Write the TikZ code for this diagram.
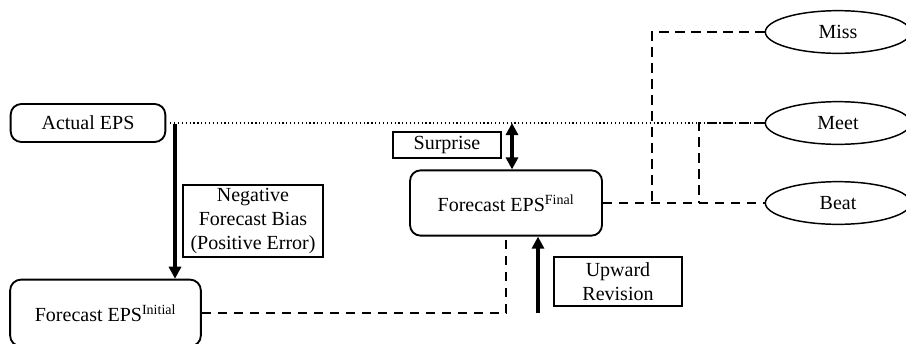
\documentclass[tikz,border=0pt]{standalone}
\usepackage{fontspec}
\setmainfont{Liberation Serif}
\usetikzlibrary{shapes.geometric,arrows.meta}
\begin{document}
\begin{tikzpicture}[x=0.75pt,y=-0.75pt,
    font=\fontsize{15}{18}\selectfont,
    epsbox/.style={draw,line width=1.4pt,rounded corners=8pt,align=center,inner sep=0pt},
    labelbox/.style={draw,line width=1.2pt,align=center,inner sep=1pt},
    outcome/.style={draw,ellipse,line width=1.1pt,inner sep=0pt,minimum width=109pt,minimum height=32pt},
    dashline/.style={line width=1.5pt,dash pattern=on 7pt off 5pt},
    bigarrow/.style={line width=2.3pt,-{Triangle[length=9pt,width=9pt]}}]
  \useasboundingbox (0,0) rectangle (906,343);

  % forecasts
  \node[epsbox,minimum width=116pt,minimum height=28.5pt] (actual) at (88,123) {Actual EPS};
  \node[epsbox,minimum width=143pt,minimum height=50pt] (initial) at (105.5,313) {Forecast EPS\textsuperscript{Initial}};
  \node[epsbox,minimum width=144pt,minimum height=49pt] (final) at (506,203) {Forecast EPS\textsuperscript{Final}};

  % explanations
  \node[labelbox,minimum width=105pt,minimum height=54pt] (bias) at (253,221) {Negative\\Forecast Bias\\(Positive Error)};
  \node[labelbox,minimum width=81pt,minimum height=19.5pt] (surprise) at (447,145) {Surprise};
  \node[labelbox,minimum width=96pt,minimum height=37pt] (revision) at (618,281.5) {Upward\\Revision};

  % outcomes
  \node[outcome] (miss) at (838,32) {Miss};
  \node[outcome] (meet) at (838,123) {Meet};
  \node[outcome] (beat) at (838,203) {Beat};

  \coordinate (down) at (175,124);
  \coordinate (up) at (538,313);
  \coordinate (gap) at (512,123);
  \coordinate (j1) at (652,203);
  \coordinate (j2) at (699,203);

  \draw[dotted,line width=0.9pt,shorten <=3pt] (actual.east) -- (meet.west);
  \draw[bigarrow] (down) -- (down |- initial.north);
  \draw[bigarrow] (up) -- (up |- final.south);
  \draw[line width=2.3pt,{Triangle[length=9pt,width=9pt]}-{Triangle[length=9pt,width=9pt]}] (gap) -- (gap |- final.north);

  \draw[dashline] (initial.east) -| (final.south);
  \draw[dashline] (final.east) -- (beat.west);
  \draw[dashline,line width=1.3pt] (miss.west) -| (j1);
  \draw[dashline,line width=1.3pt] (meet.west) -| (j2);
\end{tikzpicture}
\end{document}
